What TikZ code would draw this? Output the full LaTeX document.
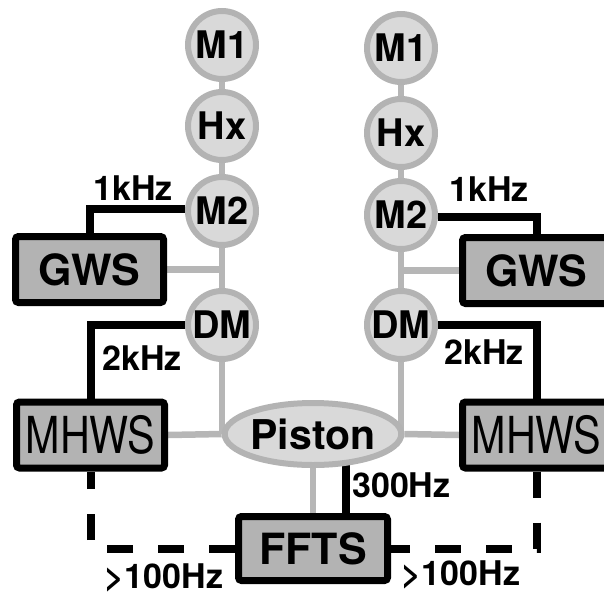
\documentclass[tikz,border=0pt]{standalone}
\usepackage{fontspec}
\setmainfont{TeX Gyre Heros}
\usetikzlibrary{shapes.geometric,backgrounds}
\definecolor{ringgray}{HTML}{B3B3B3}
\definecolor{discfill}{HTML}{D9D9D9}
\definecolor{boxfill}{HTML}{B3B3B3}
\definecolor{linkgray}{HTML}{B6B6B6}
\begin{document}
\begin{tikzpicture}[x=1pt,y=-1pt,
  optic/.style={circle,minimum size=68pt,inner sep=0pt,draw=ringgray,line width=6pt,fill=discfill,
    font=\fontsize{38}{40}\selectfont\bfseries},
  pistonnode/.style={ellipse,minimum width=157pt,minimum height=62pt,inner sep=0pt,draw=ringgray,line width=6pt,fill=discfill,
    font=\fontsize{41}{43}\selectfont\bfseries},
  sensor/.style={rectangle,rounded corners=3pt,minimum width=148pt,minimum height=66pt,inner sep=0pt,draw=black,line width=7pt,fill=boxfill},
  boldtext/.style={font=\fontsize{43}{45}\selectfont\bfseries},
  regtext/.style={font=\fontsize{51}{53}\selectfont},
  lbl/.style={inner sep=0pt,font=\fontsize{34}{36}\selectfont\bfseries},
  graylink/.style={draw=linkgray,line width=6.5pt},
  blacklink/.style={draw=black,line width=8pt},
  dashlink/.style={draw=black,line width=8pt,dash pattern=on 26pt off 25pt}]
\useasboundingbox (0,0) rectangle (604,597);
\clip (0,0) rectangle (604,597);

% left column
\node[optic] (M1L) at (222,45) {M1};
\node[optic] (HxL) at (222,126) {Hx};
\node[optic] (M2L) at (222,211) {M2};
\node[optic] (DML) at (222,325) {DM};
% right column
\node[optic] (M1R) at (401,48) {M1};
\node[optic] (HxR) at (401,133) {Hx};
\node[optic] (M2R) at (401,215) {M2};
\node[optic] (DMR) at (401,325) {DM};

\node[pistonnode] (Piston) at (313,434) {Piston};

\node[sensor,boldtext] (GWSL) at (89.5,269.5) {GWS};
\node[sensor,boldtext] (GWSR) at (536.5,270.5) {GWS};
\node[sensor,regtext] (MHWSL) at (90.5,435) {\scalebox{0.81}[1]{MHWS}};
\node[sensor,regtext] (MHWSR) at (536.5,435) {\scalebox{0.81}[1]{MHWS}};
\node[sensor,boldtext,minimum width=149pt,minimum height=64pt] (FFTS) at (313,548.5) {FFTS};

\node[lbl] (k1L) at (133,188) {1kHz};
\node[lbl] (k1R) at (489,189) {1kHz};
\node[lbl] (k2L) at (142,358) {2kHz};
\node[lbl] (k2R) at (484,352) {2kHz};
\node[lbl,anchor=west] (h300) at (352,485) {300Hz};
\node[lbl] (h100L) at (164,578) {>100Hz};
\node[lbl] (h100R) at (461,575) {>100Hz};

\begin{scope}[on background layer]
  % gray optical path
  \draw[graylink] (M1L) -- (HxL) -- (M2L) -- (DML) -- (DML |- Piston.west);
  \draw[graylink] (M1R) -- (HxR) -- (M2R) -- (DMR) -- (DMR |- Piston.east);
  \draw[graylink] (GWSL.east) -- (GWSL.east -| M2L);
  \draw[graylink] (GWSR.west) -- (GWSR.west -| M2R);
  \draw[graylink] (MHWSL.east) -- (Piston.west);
  \draw[graylink] (Piston.east) -- (MHWSR.west);
  \draw[graylink] (Piston) -- (FFTS);
  % black control links
  \draw[blacklink] ([yshift=2pt]M2L.west) -| (GWSL.north);
  \draw[blacklink] ([yshift=-2pt]M2R.east) -| (GWSR.north);
  \draw[blacklink] (DML.west) -| (MHWSL.north);
  \draw[blacklink] (DMR.east) -| (MHWSR.north);
  \draw[blacklink] ([xshift=33pt]Piston.center) -- ([xshift=33pt]Piston.center |- FFTS.north);
  % dashed links
  \draw[dashlink] (FFTS.west) -| (MHWSL.south);
  \draw[dashlink] (MHWSR.south) |- (FFTS.east);
\end{scope}
\end{tikzpicture}
\end{document}
